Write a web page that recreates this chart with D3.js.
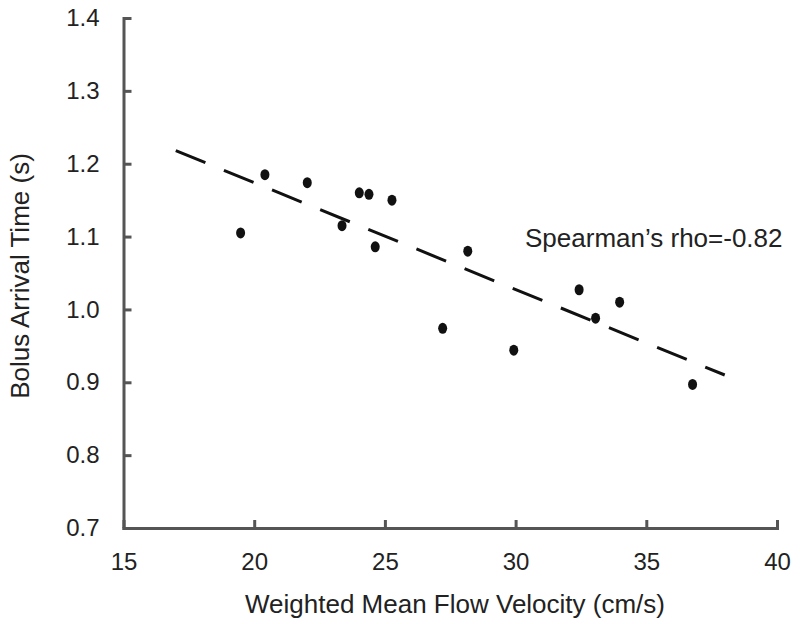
<!DOCTYPE html>
<html>
<head>
<meta charset="utf-8">
<script src="https://cdn.jsdelivr.net/npm/d3@7"></script>
<style>
  html, body { margin: 0; padding: 0; background: #fff; }
  svg { display: block; }
  text { font-family: "Liberation Sans", Arial, Helvetica, sans-serif; fill: #222; }
</style>
</head>
<body>
<svg id="chart" width="800" height="624"></svg>
<script>
// ---- data ----
const velocity = [19.48, 20.41, 22.03, 23.36, 24.02, 24.39, 25.27, 24.63, 28.17, 27.21, 29.93, 32.43, 33.98, 33.06, 36.77];
const arrivalTime = [1.105, 1.185, 1.174, 1.115, 1.160, 1.158, 1.150, 1.086, 1.080, 0.974, 0.944, 1.027, 1.010, 0.988, 0.897];
const fitX = [17.0, 38.0];
const fitY = [1.218, 0.910];
const xTicks = [15, 20, 25, 30, 35, 40];
const yTicks = [0.7, 0.8, 0.9, 1.0, 1.1, 1.2, 1.3, 1.4];
const xTitle = "Weighted Mean Flow Velocity (cm/s)";
const yTitle = "Bolus Arrival Time (s)";
const annotation = "Spearman\u2019s rho=-0.82";

// ---- layout ----
const svg = d3.select("#chart");
const plotLeft = 123.5, plotRight = 777, plotTop = 18, plotBottom = 528;
const x = d3.scaleLinear().domain([15, 40]).range([plotLeft, plotRight]);
const y = d3.scaleLinear().domain([0.7, 1.4]).range([plotBottom, plotTop]);
const axisColor = "#555";

const xAxis = svg.append("g")
  .attr("transform", `translate(0,${plotBottom})`)
  .call(d3.axisBottom(x).tickValues(xTicks).tickFormat(d3.format("d"))
        .tickSizeInner(-8).tickSizeOuter(0).tickPadding(25));
const yAxis = svg.append("g")
  .attr("transform", `translate(${plotLeft},0)`)
  .call(d3.axisLeft(y).tickValues(yTicks).tickFormat(d3.format(".1f"))
        .tickSizeInner(-8).tickSizeOuter(0).tickPadding(24));

[xAxis, yAxis].forEach(g => {
  g.attr("font-family", null).attr("font-size", null);
  g.select(".domain").attr("stroke", axisColor).attr("stroke-width", 3).attr("stroke-linecap", "square");
  g.selectAll(".tick line").attr("stroke", axisColor).attr("stroke-width", 3);
  g.selectAll(".tick text").style("font-size", "24px").attr("fill", "#222");
});

// ---- fit line ----
const fitData = fitX.map((v, i) => [v, fitY[i]]);
svg.append("path")
  .datum(fitData)
  .attr("d", d3.line().x(d => x(d[0])).y(d => y(d[1])))
  .attr("fill", "none")
  .attr("stroke", "#111")
  .attr("stroke-width", 3)
  .attr("stroke-dasharray", "32,20");

// ---- points ----
svg.append("g").selectAll("ellipse")
  .data(velocity.map((v, i) => [v, arrivalTime[i]]))
  .join("ellipse")
  .attr("cx", d => x(d[0]))
  .attr("cy", d => y(d[1]))
  .attr("rx", 4.5)
  .attr("ry", 5.5)
  .attr("fill", "#111");

// ---- annotation ----
svg.append("text")
  .attr("x", 525).attr("y", 247)
  .style("font-size", "26px")
  .text(annotation);

// ---- axis titles ----
svg.append("text")
  .attr("x", 455).attr("y", 613)
  .attr("text-anchor", "middle")
  .style("font-size", "26px")
  .text(xTitle);
svg.append("text")
  .attr("transform", "translate(29,276) rotate(-90)")
  .attr("text-anchor", "middle")
  .style("font-size", "26px")
  .text(yTitle);
</script>
</body>
</html>
